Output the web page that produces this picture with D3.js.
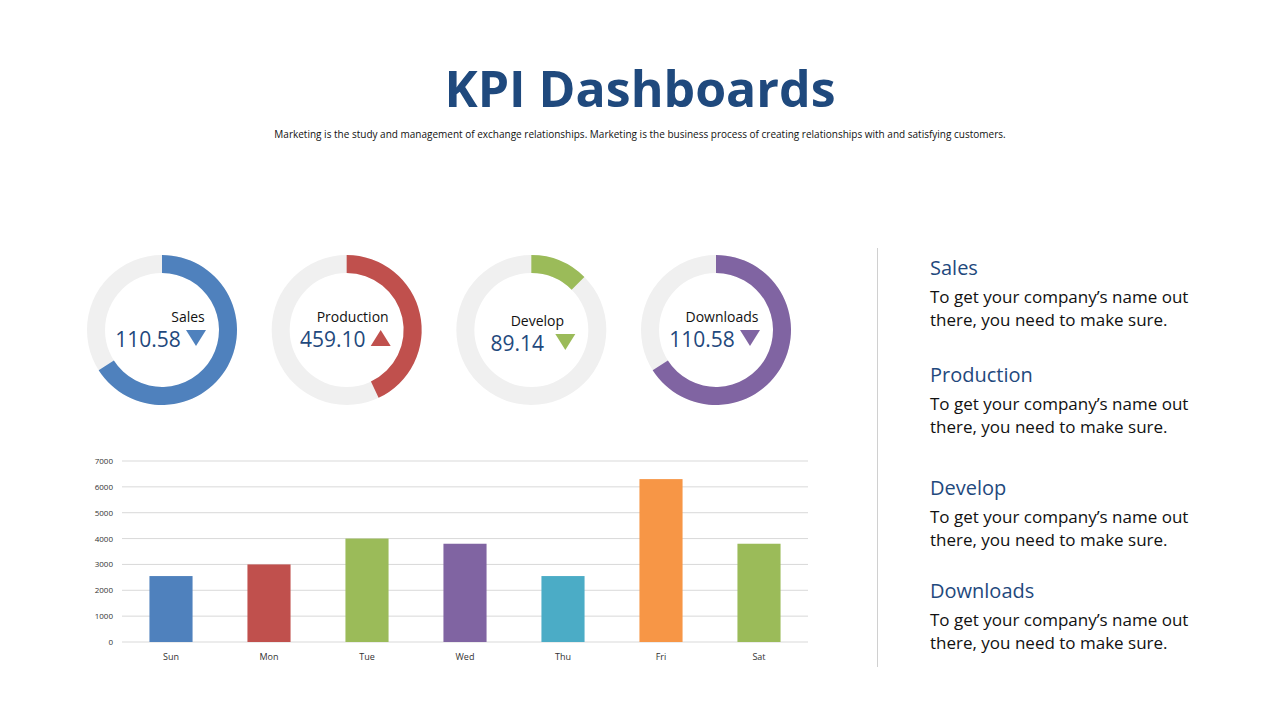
<!DOCTYPE html>
<html lang="en">
<head>
<meta charset="utf-8">
<title>KPI Dashboards</title>
<script src="https://cdn.jsdelivr.net/npm/d3@7"></script>
<style>
  body { margin: 0; background: #fff; }
  text { font-family: "Open Sans", "Noto Sans", sans-serif; }
</style>
</head>
<body>
<script>
// donut data
var kpiNames = ["Sales", "Production", "Develop", "Downloads"];
var kpiValues = ["110.58", "459.10", "89.14", "110.58"];
var kpiShare = [0.66, 0.43, 0.125, 0.66];
var kpiUp = [false, true, false, false];
var kpiColors = ["#4f81bd", "#c0504d", "#9bbb59", "#8064a2"];

// bar data
var days = ["Sun", "Mon", "Tue", "Wed", "Thu", "Fri", "Sat"];
var dayValues = [2550, 3000, 4000, 3800, 2550, 6300, 3800];
var dayColors = ["#4f81bd", "#c0504d", "#9bbb59", "#8064a2", "#4bacc6", "#f79646", "#9bbb59"];
var yTicks = [0, 1000, 2000, 3000, 4000, 5000, 6000, 7000];

var navy = "#1f497d";
var w = 1280, h = 720;

var svg = d3.select("body").append("svg").attr("width", w).attr("height", h);

// title
svg.append("text").attr("x", 640).attr("y", 107).attr("text-anchor", "middle")
  .attr("font-size", 50).attr("font-weight", "bold").attr("fill", navy).text("KPI Dashboards");
svg.append("text").attr("x", 640).attr("y", 138).attr("text-anchor", "middle")
  .attr("font-size", 10).attr("fill", "#111")
  .text("Marketing is the study and management of exchange relationships. Marketing is the  business process of creating relationships with and satisfying customers.");

// donuts
var cx = d3.scalePoint().domain(kpiNames).range([162, 716]);
var arc = d3.arc().innerRadius(57).outerRadius(75);

kpiNames.forEach(function(name, i) {
  var g = svg.append("g").attr("transform", "translate(" + cx(name) + ",330)");
  g.append("path").attr("d", arc({startAngle: 0, endAngle: 2 * Math.PI})).attr("fill", "#f0f0f0");
  g.append("path").attr("d", arc({startAngle: 0, endAngle: 2 * Math.PI * kpiShare[i]})).attr("fill", kpiColors[i]);
  var dy = name == "Develop" ? 4 : 0;
  g.append("text").attr("x", name == "Sales" ? 26 : 6).attr("y", -8 + dy).attr("text-anchor", "middle")
    .attr("font-size", 14).attr("fill", "#111").text(name);
  g.append("text").attr("x", -14).attr("y", 17 + dy).attr("text-anchor", "middle")
    .attr("font-size", 21).attr("fill", navy).text(kpiValues[i]);
  var tx = 34, ty = 9 + dy;
  var tri = kpiUp[i]
    ? [[tx - 10, ty + 7], [tx + 10, ty + 7], [tx, ty - 9]]
    : [[tx - 10, ty - 9], [tx + 10, ty - 9], [tx, ty + 7]];
  g.append("path").attr("d", d3.line()(tri) + "Z").attr("fill", kpiColors[i]);
});

// bar chart
var x = d3.scaleBand().domain(days).range([122, 808]).paddingInner(0.56).paddingOuter(0.28);
var y = d3.scaleLinear().domain([0, 7000]).range([642, 461]);

svg.append("g").selectAll("line").data(yTicks).enter().append("line")
  .attr("x1", 122).attr("x2", 808)
  .attr("y1", function(d) { return y(d); }).attr("y2", function(d) { return y(d); })
  .attr("stroke", "#d9d9d9").attr("stroke-width", 1);

svg.append("g").selectAll("text").data(yTicks).enter().append("text")
  .attr("x", 113).attr("y", function(d) { return y(d) + 3; })
  .attr("text-anchor", "end").attr("font-size", 8).attr("fill", "#333")
  .text(function(d) { return d; });

svg.append("g").selectAll("rect").data(dayValues).enter().append("rect")
  .attr("x", function(d, i) { return x(days[i]); })
  .attr("width", x.bandwidth())
  .attr("y", function(d) { return y(d); })
  .attr("height", function(d) { return y(0) - y(d); })
  .attr("fill", function(d, i) { return dayColors[i]; });

svg.append("g").selectAll("text").data(days).enter().append("text")
  .attr("x", function(d) { return x(d) + x.bandwidth() / 2; }).attr("y", 660)
  .attr("text-anchor", "middle").attr("font-size", 9).attr("fill", "#333")
  .text(function(d) { return d; });

// right panel
svg.append("line").attr("x1", 877.5).attr("x2", 877.5).attr("y1", 248).attr("y2", 667)
  .attr("stroke", "#d0d0d0");

var headY = [268, 375, 488, 591];
kpiNames.forEach(function(name, i) {
  svg.append("text").attr("x", 930).attr("y", headY[i] + 7).attr("font-size", 20)
    .attr("fill", navy).text(name);
  svg.append("text").attr("x", 930).attr("y", headY[i] + 35).attr("font-size", 17)
    .attr("fill", "#111").text("To get your company\u2019s name out");
  svg.append("text").attr("x", 930).attr("y", headY[i] + 58).attr("font-size", 17)
    .attr("fill", "#111").text("there, you need to make sure.");
});
</script>
</body>
</html>
